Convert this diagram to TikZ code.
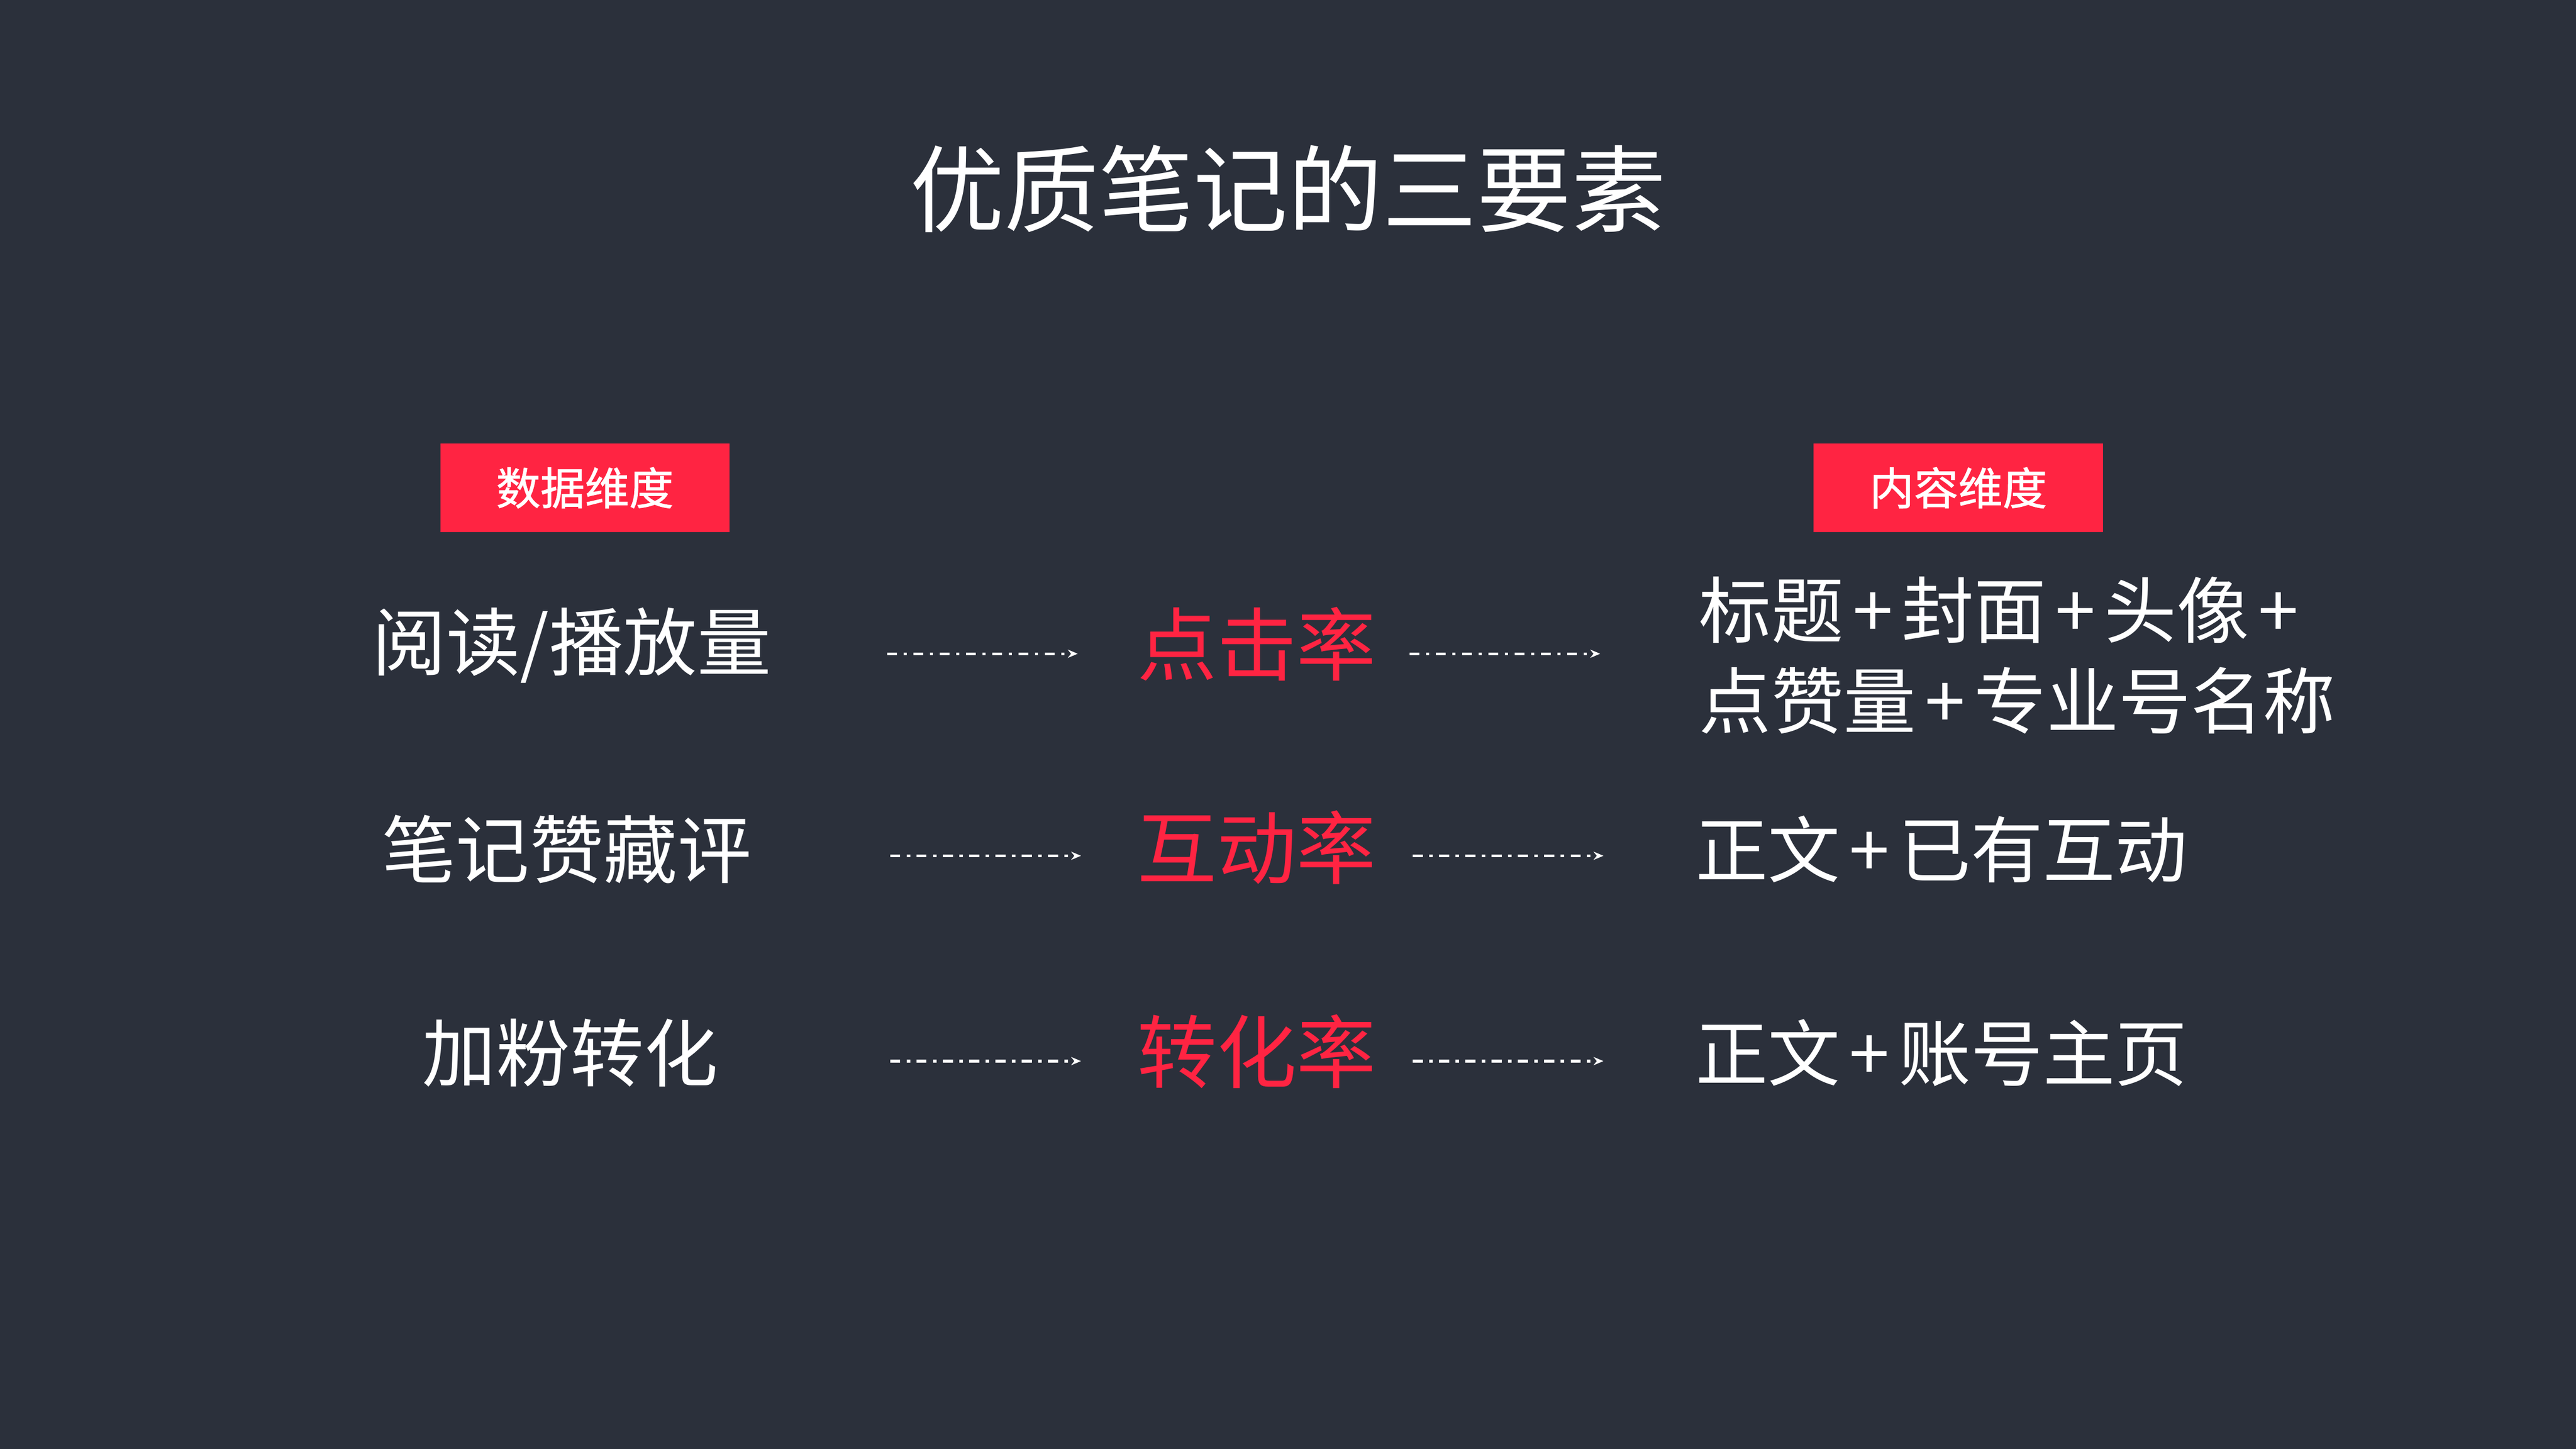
\documentclass[tikz,border=0pt]{standalone}
\usepackage{fontspec}
\setmainfont{Noto Sans CJK SC}
\newfontfamily\tagfont[FakeBold=1.2]{Noto Sans CJK SC}
\usetikzlibrary{arrows.meta}
\definecolor{bg}{HTML}{2B303B}
\definecolor{hot}{HTML}{FF2442}
\newcommand{\pl}{\hspace{5.5pt}+\hspace{5.5pt}}
\begin{document}
\begin{tikzpicture}[x=1pt,y=-1pt,
  tag/.style={fill=hot,text=white,font=\fontsize{27}{30}\tagfont,minimum width=176pt,minimum height=54pt,inner sep=0pt},
  lbl/.style={text=white,font=\fontsize{45}{50}\selectfont,inner sep=0pt},
  mid/.style={text=hot,font=\fontsize{48.5}{52}\selectfont,inner sep=0pt},
  rt/.style={text=white,font=\fontsize{44}{55}\selectfont,inner sep=0pt,anchor=west,align=left},
  conn/.style={white,line width=1.6pt,dash pattern=on 6pt off 4pt on 2pt off 4pt,-{Stealth[length=6pt,width=5pt]}}]
\fill[bg] (0,0) rectangle (1568,882);
\useasboundingbox (0,0) rectangle (1568,882);
\node[text=white,font=\fontsize{57.5}{60}\selectfont,inner sep=0pt] (title) at (784,115) {优质笔记的三要素};
\node[tag] (t1) at (356,297) {数据维度};
\node[tag] (t2) at (1192,297) {内容维度};
\node[lbl] (a1) at (348,393) {阅读/播放量};
\node[lbl] (a2) at (345,517) {笔记赞藏评};
\node[lbl] (a3) at (347,641) {加粉转化};
\node[mid] (m1) at (765,392) {点击率};
\node[mid] (m2) at (765,516) {互动率};
\node[mid] (m3) at (765,640) {转化率};
\node[rt] (r1) at (1034,399) {标题\pl 封面\pl 头像\pl\\点赞量\pl 专业号名称};
\node[rt] (r2) at (1032,517) {正文\pl 已有互动};
\node[rt] (r3) at (1032,641) {正文\pl 账号主页};
\coordinate (p1a) at (540,398); \coordinate (p1b) at (656,398);
\coordinate (q1a) at (858,398); \coordinate (q1b) at (974,398);
\coordinate (p2a) at (542,521); \coordinate (p2b) at (658,521);
\coordinate (q2a) at (860,521); \coordinate (q2b) at (976,521);
\coordinate (p3a) at (542,646); \coordinate (p3b) at (658,646);
\coordinate (q3a) at (860,646); \coordinate (q3b) at (976,646);
\foreach \i in {1,2,3}{\draw[conn] (p\i a) -- (p\i b); \draw[conn] (q\i a) -- (q\i b);}
\end{tikzpicture}
\end{document}
